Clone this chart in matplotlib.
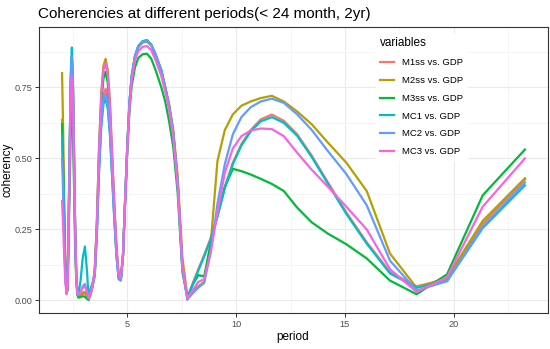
"""Coherencies at different periods (< 24 month, 2yr)."""

import matplotlib

matplotlib.use("Agg")
import matplotlib.pyplot as plt
from matplotlib.ticker import MultipleLocator

plt.rcParams["font.family"] = ["Liberation Sans", "DejaVu Sans"]

PERIOD = [
    2.0, 2.05, 2.1, 2.15, 2.2, 2.25, 2.3, 2.35, 2.4, 2.45, 2.5, 2.55, 2.6, 2.65, 2.7, 2.75,
    2.85, 2.95, 3.05, 3.15, 3.22, 3.3, 3.4,
    3.5, 3.6, 3.7, 3.8, 3.9, 4.0, 4.1, 4.2, 4.3, 4.4, 4.5, 4.6,
    4.7, 4.8, 4.9, 5.0, 5.1, 5.2,
    5.35, 5.5, 5.7, 5.9, 6.1, 6.3,
    6.56, 6.74, 6.92, 7.11, 7.31, 7.53, 7.76,
    8.0, 8.26, 8.53, 8.83, 9.14, 9.48, 9.85, 10.24, 10.67, 11.13, 11.64,
    12.19, 12.8, 13.47, 14.22, 15.06, 16.0, 17.07, 18.29, 19.69, 21.33, 23.27,
]

M1SS = [
    0.635, 0.48, 0.28, 0.11, 0.03, 0.04, 0.25, 0.52, 0.76, 0.84, 0.74, 0.50, 0.25, 0.09, 0.03, 0.015,
    0.02, 0.022, 0.025, 0.012, 0.004, 0.02, 0.05,
    0.09, 0.245, 0.475, 0.64, 0.72, 0.745, 0.71, 0.61, 0.455, 0.30, 0.165, 0.08,
    0.072, 0.16, 0.36, 0.55, 0.70, 0.79,
    0.86, 0.895, 0.912, 0.915, 0.90, 0.865,
    0.81, 0.75, 0.685, 0.59, 0.42, 0.12, 0.008,
    0.06, 0.11, 0.16, 0.22, 0.30, 0.40, 0.485, 0.55, 0.60, 0.637, 0.654,
    0.632, 0.585, 0.51, 0.415, 0.31, 0.205, 0.10, 0.05, 0.075, 0.27, 0.425,
]
M2SS = [
    0.80, 0.60, 0.35, 0.14, 0.03, 0.04, 0.26, 0.53, 0.77, 0.86, 0.76, 0.52, 0.26, 0.095, 0.03, 0.015,
    0.02, 0.028, 0.03, 0.015, 0.005, 0.02, 0.05,
    0.10, 0.28, 0.54, 0.73, 0.825, 0.85, 0.81, 0.70, 0.52, 0.34, 0.19, 0.085,
    0.072, 0.155, 0.35, 0.545, 0.695, 0.785,
    0.855, 0.89, 0.907, 0.91, 0.897, 0.862,
    0.81, 0.75, 0.69, 0.60, 0.44, 0.15, 0.015,
    0.03, 0.05, 0.065, 0.20, 0.49, 0.60, 0.655, 0.685, 0.70, 0.712, 0.72,
    0.70, 0.665, 0.62, 0.555, 0.485, 0.385, 0.165, 0.045, 0.08, 0.28, 0.43,
]
M3SS = [
    0.62, 0.47, 0.28, 0.11, 0.025, 0.035, 0.20, 0.41, 0.60, 0.665, 0.585, 0.40, 0.20, 0.075, 0.02, 0.01,
    0.012, 0.015, 0.013, 0.005, 0.002, 0.04, 0.06,
    0.10, 0.265, 0.515, 0.69, 0.78, 0.805, 0.765, 0.66, 0.49, 0.32, 0.18, 0.085,
    0.075, 0.16, 0.35, 0.53, 0.67, 0.755,
    0.82, 0.853, 0.866, 0.868, 0.85, 0.81,
    0.75, 0.70, 0.63, 0.54, 0.38, 0.10, 0.012,
    0.055, 0.089, 0.085, 0.20, 0.30, 0.40, 0.463, 0.455, 0.443, 0.428, 0.41,
    0.385, 0.327, 0.275, 0.235, 0.198, 0.148, 0.07, 0.022, 0.092, 0.37, 0.531,
]
MC1 = [
    0.58, 0.44, 0.26, 0.10, 0.03, 0.045, 0.27, 0.55, 0.80, 0.89, 0.78, 0.53, 0.27, 0.10, 0.03, 0.02,
    0.07, 0.15, 0.19, 0.10, 0.005, 0.02, 0.05,
    0.085, 0.235, 0.455, 0.61, 0.69, 0.71, 0.675, 0.58, 0.435, 0.285, 0.155, 0.075,
    0.07, 0.16, 0.36, 0.55, 0.70, 0.79,
    0.86, 0.895, 0.912, 0.916, 0.90, 0.865,
    0.81, 0.75, 0.685, 0.59, 0.42, 0.115, 0.003,
    0.055, 0.105, 0.155, 0.215, 0.295, 0.395, 0.48, 0.545, 0.595, 0.63, 0.645,
    0.625, 0.58, 0.505, 0.41, 0.305, 0.20, 0.095, 0.045, 0.068, 0.255, 0.405,
]
MC2 = [
    0.50, 0.38, 0.22, 0.09, 0.03, 0.045, 0.26, 0.53, 0.78, 0.86, 0.75, 0.51, 0.26, 0.095, 0.03, 0.02,
    0.03, 0.05, 0.058, 0.03, 0.008, 0.03, 0.06,
    0.09, 0.24, 0.465, 0.625, 0.705, 0.725, 0.69, 0.595, 0.44, 0.29, 0.16, 0.08,
    0.072, 0.16, 0.36, 0.55, 0.70, 0.79,
    0.858, 0.893, 0.91, 0.912, 0.898, 0.863,
    0.808, 0.748, 0.683, 0.585, 0.415, 0.115, 0.004,
    0.025, 0.045, 0.062, 0.17, 0.34, 0.48, 0.585, 0.645, 0.68, 0.70, 0.71,
    0.695, 0.655, 0.60, 0.525, 0.445, 0.335, 0.14, 0.035, 0.068, 0.26, 0.415,
]
MC3 = [
    0.35, 0.26, 0.15, 0.07, 0.022, 0.04, 0.24, 0.49, 0.71, 0.79, 0.70, 0.47, 0.24, 0.09, 0.025, 0.02,
    0.03, 0.045, 0.05, 0.03, 0.008, 0.02, 0.05,
    0.10, 0.275, 0.535, 0.72, 0.81, 0.835, 0.795, 0.685, 0.51, 0.335, 0.185, 0.09,
    0.08, 0.16, 0.355, 0.54, 0.685, 0.775,
    0.845, 0.877, 0.892, 0.895, 0.88, 0.845,
    0.79, 0.735, 0.67, 0.575, 0.41, 0.12, 0.008,
    0.035, 0.065, 0.075, 0.17, 0.31, 0.45, 0.535, 0.578, 0.598, 0.605, 0.603,
    0.578, 0.52, 0.46, 0.40, 0.33, 0.25, 0.11, 0.03, 0.082, 0.33, 0.50,
]

LABELS = ["M1ss vs. GDP", "M2ss vs. GDP", "M3ss vs. GDP", "MC1 vs. GDP", "MC2 vs. GDP", "MC3 vs. GDP"]
COLORS = ["#F8766D", "#B79F00", "#00BA38", "#00BFC4", "#619CFF", "#F564E3"]
SERIES = [M1SS, M2SS, M3SS, MC1, MC2, MC3]

fig = plt.figure(figsize=(5.5, 3.49), dpi=100)
ax = fig.add_axes([39 / 550, 36 / 349, 509 / 550, 286 / 349])

for values, label, color in zip(SERIES, LABELS, COLORS):
    ax.plot(PERIOD, values, color=color, lw=1.6, label=label, solid_joinstyle="round")

ax.set_xlim(0.94, 24.33)
ax.set_ylim(-0.044, 0.962)
ax.xaxis.set_major_locator(MultipleLocator(5))
ax.xaxis.set_minor_locator(MultipleLocator(2.5))
ax.yaxis.set_major_locator(MultipleLocator(0.25))
ax.yaxis.set_minor_locator(MultipleLocator(0.125))
ax.yaxis.set_major_formatter(lambda v, pos: f"{v:.2f}")
ax.grid(which="major", color="#EBEBEB", lw=0.8)
ax.grid(which="minor", color="#F2F2F2", lw=0.5)
ax.set_axisbelow(True)
ax.tick_params(which="major", length=3, width=0.7, color="#333333", labelsize=6.6,
               labelcolor="#4D4D4D", pad=2)
ax.tick_params(which="minor", length=0)
for spine in ax.spines.values():
    spine.set_color("#333333")
    spine.set_linewidth(0.8)

ax.set_xlabel("period", fontsize=8.5)
ax.xaxis.set_label_coords((293 - 39) / 509, -(331 - 313) / 286)
ax.set_ylabel("coherency", fontsize=8.5)
ax.yaxis.set_label_coords(-(39 - 14) / 509, 0.5)
fig.text(38 / 550, 1 - 14 / 349, "Coherencies at different periods(< 24 month, 2yr)",
         fontsize=11, va="center", ha="left")

leg = ax.legend(loc="upper left", bbox_to_anchor=(371 / 550, 1 - 29 / 349),
                bbox_transform=fig.transFigure, title="variables", fontsize=6.8,
                title_fontsize=8.5, frameon=True, fancybox=False, framealpha=1,
                edgecolor="white", handlelength=1.55, handletextpad=0.85,
                labelspacing=0.93, borderpad=0.4, alignment="left")

fig.savefig("out.png", dpi=100)
